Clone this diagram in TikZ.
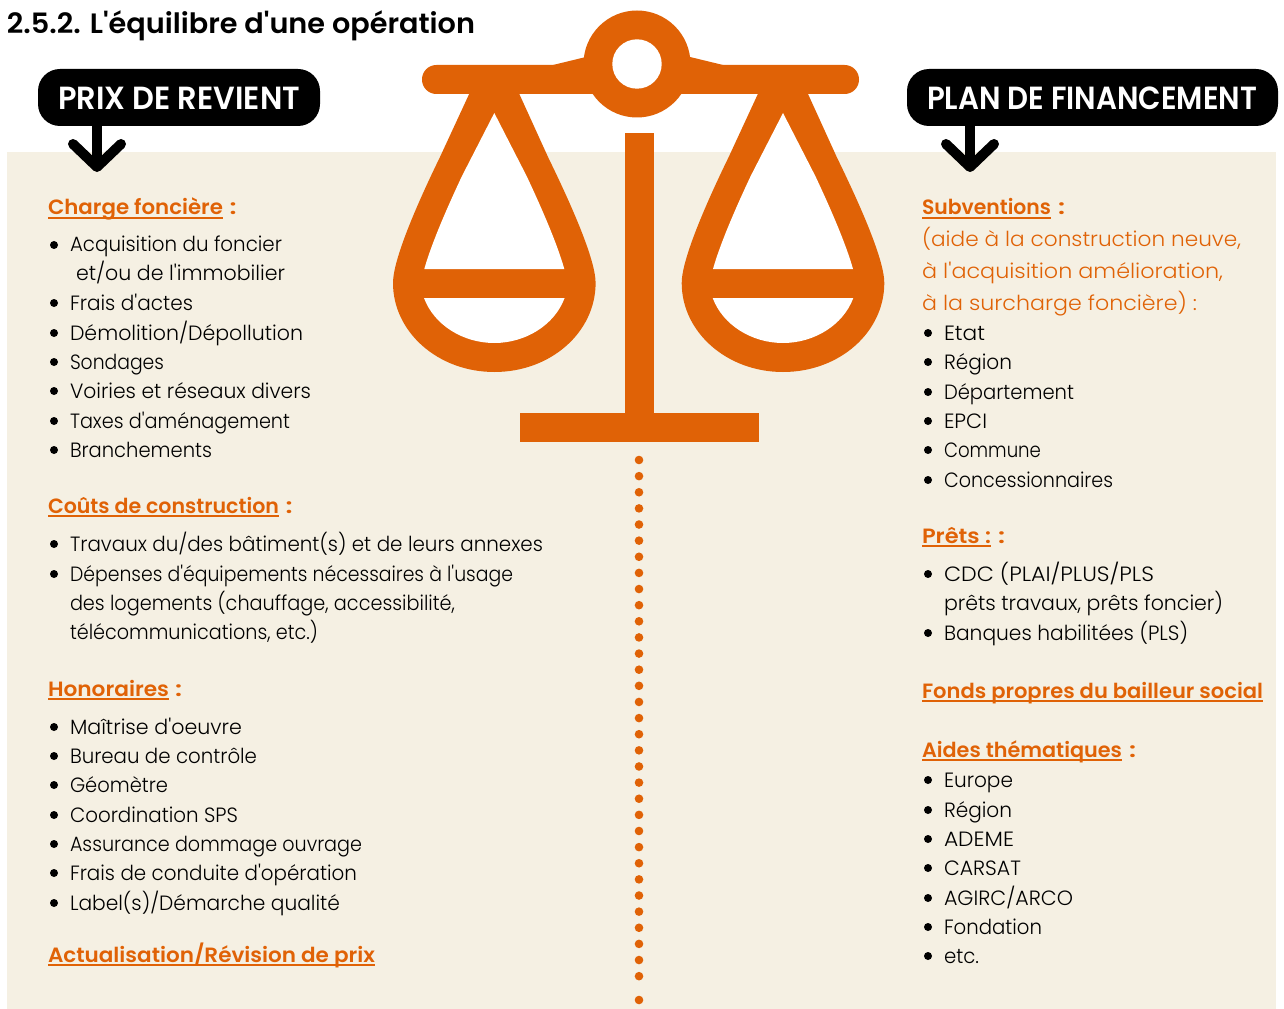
\documentclass[tikz,border=0pt]{standalone}
\usepackage{fontspec}
\setmainfont{Poppins}[UprightFont=* Light,BoldFont=* SemiBold,Ligatures=TeXOff]
\definecolor{orng}{HTML}{E06206}
\definecolor{beige}{HTML}{F5F0E3}
\newcounter{txtn}
\newsavebox{\fitbox}
\newlength{\fitw}
% \fit{x0}{x1}{y}{style}{text}
\newcommand{\fit}[5]{%
  \stepcounter{txtn}%
  \sbox{\fitbox}{\pgfinterruptpicture#4#5\endpgfinterruptpicture}%
  \setlength{\fitw}{\wd\fitbox}%
  \pgfmathsetmacro{\fitr}{((#2)-(#1))*0.75/(\fitw/1pt)}%
  \node[txt] (t\arabic{txtn}) at (#1,#3) {\scalebox{\fitr}[1]{\usebox{\fitbox}}};}
\newcommand{\itm}[4]{\fill (#1-16,#3-7) circle (4);\fit{#1}{#2}{#3}{\fs}{#4}}
\newcommand{\plain}[4]{\fit{#1}{#2}{#3}{\fs}{#4}}
\newcommand{\fs}{\fontsize{15.5pt}{18pt}\selectfont}
\newcommand{\hs}{\fontsize{15.5pt}{18pt}\selectfont\bfseries\color{orng}}
\newcommand{\head}[4]{\fit{#1}{#2}{#3}{\hs}{#4}\draw[orng,line width=1.6] (#1,#3+3) -- (#2,#3+3);}
\newcommand{\cln}[2]{\fit{#1}{#1+7}{#2}{\hs}{:}}
\tikzset{txt/.style={anchor=base west,inner sep=0pt,outer sep=0pt}}
\begin{document}
\begin{tikzpicture}[x=0.75pt,y=-0.75pt]
\useasboundingbox (0,0) rectangle (1284,1009);
\fill[white] (0,0) rectangle (1284,1009);
\fill[beige] (7,152) rectangle (1276,1009);
% title
\fit{7}{475}{34}{\fontsize{21pt}{24pt}\selectfont\bfseries}{2.5.2. L'équilibre d'une opération}
% pills
\fill[rounded corners=16.5pt] (38,69) rectangle (320,126);
\fill[rounded corners=16.5pt] (907,69) rectangle (1278,126);
\fit{58}{300}{110}{\fontsize{24pt}{28pt}\selectfont\bfseries\color{white}}{PRIX DE REVIENT}
\fit{927}{1257}{110}{\fontsize{24pt}{28pt}\selectfont\bfseries\color{white}}{PLAN DE FINANCEMENT}
\foreach \ax in {97,970}{
  \draw[line width=7,black] (\ax,125) -- (\ax,165);
  \draw[line width=7.5,black,line cap=round,line join=round] (\ax-24,144) -- (\ax,167) -- (\ax+24,144);
}
% scale
\fill[orng] (637,64) circle (53.5);
\fill[orng,rounded corners=10.8pt] (422,65) rectangle (859,94);
\fill[orng] (553,65) -- (590,56) -- (595,84) -- (562,94) -- cycle;
\fill[orng] (723,65) -- (686,56) -- (683,85) -- (720,94) -- cycle;
\fill[white] (637,64) circle (24.7);
\foreach \dx in {0,288.7}{
\begin{scope}[xshift=\dx*0.75pt]
\fill[orng] (471,90) -- (440,157) .. controls (420,198) and (393,258) .. (393,283)
   .. controls (393,332) and (438,372) .. (494.3,372)
   .. controls (551,372) and (595.6,332) .. (595.6,283)
   .. controls (595.6,258) and (568,198) .. (548,157) -- (517.5,90) -- cycle;
\fill[white] (494.3,113) -- (462,176) .. controls (446,210) and (431,245) .. (424.3,269)
   -- (564.3,269) .. controls (557.6,245) and (542.6,210) .. (526.6,176) -- cycle;
\fill[white] (424,298) .. controls (434,325) and (463,343) .. (494.3,343)
   .. controls (525.6,343) and (554.6,325) .. (564.6,298) -- cycle;
\end{scope}}
\fill[orng] (625,133) rectangle (654,413);
\fill[orng] (520,413) rectangle (759,442);
% dots
\foreach \i in {0,...,32} \fill[orng] (639,460+16.13*\i) circle (4.3);
\fill[orng] (639,1000) circle (4.3);
% left column
\head{48}{223}{215}{Charge foncière}\cln{229.5}{215}
\itm{70}{282}{252}{Acquisition du foncier}
\plain{76}{285}{281}{et/ou de l'immobilier}
\itm{70}{193}{310}{Frais d'actes}
\itm{70}{303}{340}{Démolition/Dépollution}
\itm{70}{164}{369}{Sondages}
\itm{70}{311}{398}{Voiries et réseaux divers}
\itm{70}{290}{428}{Taxes d'aménagement}
\itm{70}{212}{457}{Branchements}
\head{48}{279}{513}{Coûts de construction}\cln{285.5}{513}
\itm{70}{543}{551}{Travaux du/des bâtiment(s) et de leurs annexes}
\itm{70}{513}{581}{Dépenses d'équipements nécessaires à l'usage}
\plain{70}{455}{610}{des logements (chauffage, accessibilité,}
\plain{70}{318}{639}{télécommunications, etc.)}
\head{48}{169}{696}{Honoraires}\cln{175}{696}
\itm{70}{242}{734}{Maîtrise d'oeuvre}
\itm{70}{257}{763}{Bureau de contrôle}
\itm{70}{168}{792}{Géomètre}
\itm{70}{238}{822}{Coordination SPS}
\itm{70}{362}{851}{Assurance dommage ouvrage}
\itm{70}{357}{880}{Frais de conduite d'opération}
\itm{70}{340}{910}{Label(s)/Démarche qualité}
\head{48}{375}{962}{Actualisation/Révision de prix}
% right column
\head{922}{1051}{215}{Subventions}\cln{1058}{215}
\fit{922}{1241}{246.5}{\fs\color{orng}}{(aide à la construction neuve,}
\fit{922}{1223}{278}{\fs\color{orng}}{à l'acquisition amélioration,}
\fit{922}{1197}{310}{\fs\color{orng}}{à la surcharge foncière) :}
\itm{944}{985}{340}{Etat}
\itm{944}{1012}{369}{Région}
\itm{944}{1074}{399}{Département}
\itm{944}{987}{428}{EPCI}
\itm{944}{1041}{457}{Commune}
\itm{944}{1113}{487}{Concessionnaires}
\head{922}{991}{543}{Prêts :}\cln{998}{543}
\itm{944}{1154}{581}{CDC (PLAI/PLUS/PLS}
\plain{944}{1223}{610}{prêts travaux, prêts foncier)}
\itm{944}{1188}{640}{Banques habilitées (PLS)}
\head{922}{1263}{698}{Fonds propres du bailleur social}
\head{922}{1122}{757}{Aides thématiques}\cln{1129}{757}
\itm{944}{1013}{787}{Europe}
\itm{944}{1012}{817}{Région}
\itm{944}{1014}{846}{ADEME}
\itm{944}{1021}{875}{CARSAT}
\itm{944}{1073}{905}{AGIRC/ARCO}
\itm{944}{1042}{934}{Fondation}
\itm{944}{979}{963}{etc.}
\end{tikzpicture}
\end{document}
